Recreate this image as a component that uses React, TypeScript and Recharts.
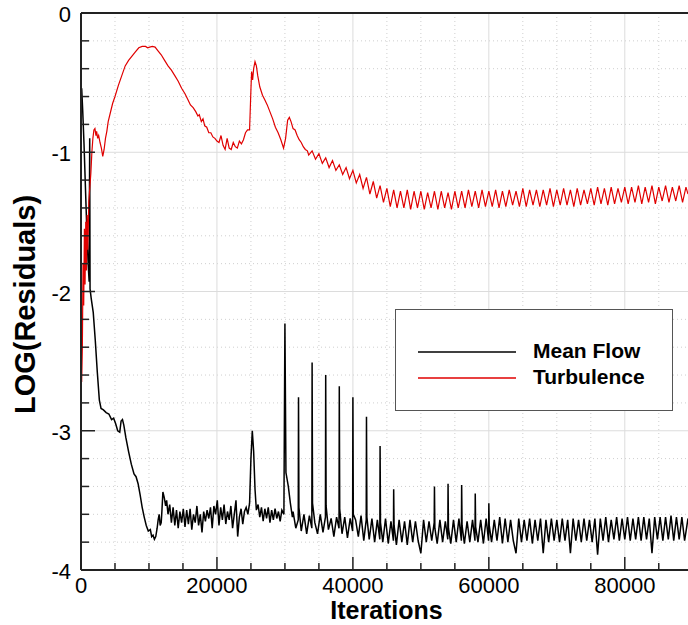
import React from "react";
import { LineChart, Line, XAxis, YAxis, CartesianGrid, ReferenceLine, Legend } from "recharts";

// ==================== Data ====================

// [iteration, log10(residual)]
const meanFlow: [number, number][] = [
  [0, -0.62], [100, -0.54], [250, -0.7], [450, -0.95], [650, -1.25], [850, -1.55], [1050, -1.8],
  [1200, -1.93], [1280, -0.9], [1330, -1.98], [1500, -2.05], [1800, -2.15], [2100, -2.35],
  [2400, -2.58], [2700, -2.78], [2950, -2.84], [3300, -2.85], [3700, -2.87], [4100, -2.88],
  [4500, -2.92], [4800, -2.91], [5100, -2.95], [5400, -3.0], [5700, -3.01], [5900, -2.93],
  [6100, -2.92], [6300, -2.96], [6600, -3.05], [7000, -3.15], [7400, -3.24], [7800, -3.31],
  [8100, -3.33], [8400, -3.38], [8700, -3.46], [9000, -3.55], [9300, -3.62], [9600, -3.68],
  [9900, -3.72], [10200, -3.71], [10400, -3.76], [10600, -3.75], [10800, -3.78], [11000, -3.76],
  [11200, -3.7], [11350, -3.64], [11500, -3.6], [11650, -3.68], [11800, -3.66], [11900, -3.58],
  [12050, -3.44], [12250, -3.48], [12450, -3.54], [12600, -3.5],
  [12800, -3.6], [13050, -3.53], [13300, -3.66], [13550, -3.55], [13800, -3.68], [14050, -3.57],
  [14300, -3.7], [14550, -3.58], [14800, -3.66], [15050, -3.56], [15300, -3.69], [15550, -3.57],
  [15800, -3.67], [16050, -3.56], [16300, -3.71], [16550, -3.6], [16800, -3.66], [17050, -3.54],
  [17300, -3.68], [17550, -3.6], [17800, -3.73], [18050, -3.58], [18300, -3.65], [18550, -3.57],
  [18800, -3.63], [19050, -3.55], [19300, -3.7], [19550, -3.54], [19800, -3.6], [20050, -3.5],
  [20300, -3.68], [20550, -3.55], [20800, -3.64], [21050, -3.53], [21300, -3.67], [21550, -3.58],
  [21800, -3.64], [22050, -3.54], [22300, -3.7], [22550, -3.6], [22800, -3.5], [23050, -3.76],
  [23300, -3.62], [23550, -3.56], [23800, -3.67], [24050, -3.58], [24300, -3.55], [24550, -3.6],
  [24800, -3.52], [25000, -3.2], [25200, -3.0], [25400, -3.15], [25600, -3.42], [25800, -3.57],
  [26050, -3.53], [26300, -3.62], [26550, -3.55], [26800, -3.65], [27050, -3.56], [27300, -3.63],
  [27550, -3.55], [27800, -3.66], [28050, -3.57], [28300, -3.64], [28550, -3.56], [28800, -3.63],
  [29050, -3.58], [29300, -3.65], [29550, -3.57], [29850, -3.6], [30000, -2.23], [30150, -3.3],
  [30500, -3.4], [30800, -3.52], [31100, -3.62],
  [31200, -3.58], [31600, -3.7], [31960, -3.64], [32000, -2.76], [32060, -3.55], [32400, -3.72],
  [32800, -3.6], [33200, -3.74], [33600, -3.61], [33960, -3.7], [34000, -2.51], [34060, -3.52],
  [34400, -3.66], [34800, -3.74], [35200, -3.6], [35600, -3.73], [35960, -3.62], [36000, -2.6],
  [36060, -3.54], [36400, -3.71], [36800, -3.63], [37200, -3.76], [37600, -3.62], [37960, -3.7],
  [38000, -2.68], [38060, -3.56], [38400, -3.74], [38800, -3.62], [39200, -3.77], [39600, -3.63],
  [39960, -3.72], [40000, -2.76], [40060, -3.6], [40400, -3.64], [40800, -3.76], [41200, -3.61],
  [41600, -3.79], [41960, -3.64], [42000, -2.9], [42060, -3.62], [42400, -3.78], [42800, -3.63],
  [43200, -3.8], [43600, -3.64], [43960, -3.78], [44000, -3.11], [44060, -3.66], [44400, -3.8],
  [44800, -3.63], [45200, -3.81], [45600, -3.65], [45960, -3.79], [46000, -3.42], [46060, -3.68],
  [46400, -3.82], [46800, -3.64], [47200, -3.8], [47600, -3.65], [48000, -3.82], [48400, -3.64],
  [48800, -3.8], [49200, -3.65], [49600, -3.79], [50000, -3.88], [50400, -3.64], [50800, -3.8],
  [51200, -3.65], [51600, -3.79], [51960, -3.66], [52000, -3.4], [52060, -3.7], [52400, -3.81],
  [52800, -3.64], [53200, -3.8], [53600, -3.65], [53960, -3.78], [54000, -3.38], [54060, -3.7],
  [54400, -3.81], [54800, -3.64], [55200, -3.8], [55600, -3.63], [55960, -3.79], [56000, -3.39],
  [56060, -3.68], [56400, -3.81], [56800, -3.65], [57200, -3.8], [57600, -3.64], [57960, -3.79],
  [58000, -3.45], [58060, -3.69], [58400, -3.8], [58800, -3.64], [59200, -3.81], [59600, -3.63],
  [59960, -3.79], [60000, -3.52], [60060, -3.68], [60400, -3.8], [60800, -3.64], [61200, -3.79],
  [61600, -3.62], [62000, -3.81], [62400, -3.63], [62800, -3.8], [63200, -3.64], [63600, -3.79],
  [64000, -3.88], [64400, -3.63], [64800, -3.8], [65200, -3.64], [65600, -3.79], [66000, -3.63],
  [66400, -3.81], [66800, -3.64], [67200, -3.79], [67600, -3.63], [68000, -3.88], [68400, -3.64],
  [68800, -3.8], [69200, -3.63], [69600, -3.79], [70000, -3.64], [70400, -3.8], [70800, -3.63],
  [71200, -3.79], [71600, -3.64], [72000, -3.88], [72400, -3.63], [72800, -3.79], [73200, -3.64],
  [73600, -3.8], [74000, -3.63], [74400, -3.79], [74800, -3.64], [75200, -3.8], [75600, -3.63],
  [76000, -3.89], [76400, -3.63], [76800, -3.79], [77200, -3.62], [77600, -3.8], [78000, -3.64],
  [78400, -3.78], [78800, -3.62], [79200, -3.79], [79600, -3.63], [80000, -3.78], [80400, -3.62],
  [80800, -3.79], [81200, -3.63], [81600, -3.78], [82000, -3.62], [82400, -3.79], [82800, -3.62],
  [83200, -3.78], [83600, -3.63], [84000, -3.88], [84400, -3.62], [84800, -3.78], [85200, -3.62],
  [85600, -3.79], [86000, -3.62], [86400, -3.78], [86800, -3.61], [87200, -3.79], [87600, -3.62],
  [88000, -3.78], [88400, -3.62], [88800, -3.79], [89300, -3.63],
];

const turbulence: [number, number][] = [
  [0, -2.2], [100, -2.65], [200, -2.4], [300, -1.8], [400, -2.1], [500, -1.55], [600, -1.95],
  [700, -1.5], [800, -1.85], [900, -1.45], [1000, -1.7], [1150, -1.35], [1300, -1.25],
  [1450, -1.15], [1600, -1.0], [1750, -0.9], [1900, -0.84], [2050, -0.83], [2200, -0.88],
  [2300, -0.85], [2450, -0.9], [2600, -0.88], [2800, -0.93], [3000, -0.97], [3200, -1.03],
  [3400, -0.98], [3600, -0.9], [3800, -0.85], [4000, -0.78], [4300, -0.72], [4650, -0.65],
  [5000, -0.6], [5500, -0.52], [6000, -0.45], [6500, -0.38], [7000, -0.34], [7500, -0.31],
  [8000, -0.28], [8500, -0.25], [9000, -0.24], [9500, -0.24], [9800, -0.25], [10100, -0.245],
  [10500, -0.24], [10900, -0.245], [11300, -0.27], [11800, -0.3], [12300, -0.34], [12800, -0.38],
  [13300, -0.41], [13800, -0.45], [14300, -0.49], [14800, -0.54], [15300, -0.58], [15700, -0.62],
  [16100, -0.66], [16500, -0.68], [16900, -0.71], [17200, -0.74], [17400, -0.73], [17700, -0.78],
  [17950, -0.76], [18200, -0.81], [18500, -0.82], [18800, -0.86], [19100, -0.86], [19400, -0.89],
  [19700, -0.9], [20000, -0.92], [20300, -0.93], [20600, -0.88], [20900, -0.95], [21200, -0.98],
  [21500, -0.9], [21800, -0.97], [22100, -0.98], [22400, -0.93], [22700, -0.96], [23000, -0.97],
  [23300, -0.92], [23600, -0.94], [23900, -0.91], [24200, -0.86], [24500, -0.84], [24800, -0.84],
  [25000, -0.55], [25100, -0.42], [25250, -0.48], [25400, -0.4], [25600, -0.35], [25800, -0.38],
  [26000, -0.45], [26300, -0.53], [26700, -0.59], [27000, -0.62], [27400, -0.66], [27800, -0.71],
  [28200, -0.76], [28600, -0.82], [29000, -0.86], [29400, -0.91], [29800, -0.97], [30100, -0.9],
  [30400, -0.77], [30650, -0.75], [30900, -0.78], [31200, -0.83], [31500, -0.84], [31800, -0.88],
  [32100, -0.91], [32400, -0.93], [32700, -0.96], [33000, -0.98], [33300, -0.99],
  [33500, -1.02], [34000, -0.99], [34500, -1.05], [35000, -1.01], [35500, -1.08], [36000, -1.04],
  [36500, -1.11], [37000, -1.06], [37500, -1.13], [38000, -1.09], [38500, -1.16], [39000, -1.11],
  [39500, -1.19], [40000, -1.13], [40500, -1.22], [41000, -1.16], [41500, -1.26], [42000, -1.18],
  [42500, -1.3], [43000, -1.21], [43500, -1.33], [44000, -1.24], [44500, -1.36], [45000, -1.26],
  [45500, -1.39], [46000, -1.27], [46500, -1.4], [47000, -1.28], [47500, -1.4], [48000, -1.27],
  [48500, -1.41], [49000, -1.28], [49500, -1.4], [50000, -1.28], [50500, -1.41], [51000, -1.29],
  [51500, -1.4], [52000, -1.28], [52500, -1.41], [53000, -1.28], [53500, -1.4], [54000, -1.29],
  [54500, -1.41], [55000, -1.28], [55500, -1.4], [56000, -1.28], [56500, -1.4], [57000, -1.27],
  [57500, -1.39], [58000, -1.28], [58500, -1.4], [59000, -1.27], [59500, -1.39], [60000, -1.28],
  [60500, -1.39], [61000, -1.27], [61500, -1.4], [62000, -1.28], [62500, -1.39], [63000, -1.27],
  [63500, -1.38], [64000, -1.28], [64500, -1.39], [65000, -1.26], [65500, -1.39], [66000, -1.27],
  [66500, -1.38], [67000, -1.27], [67500, -1.39], [68000, -1.27], [68500, -1.38], [69000, -1.26],
  [69500, -1.39], [70000, -1.27], [70500, -1.38], [71000, -1.26], [71500, -1.38], [72000, -1.27],
  [72500, -1.39], [73000, -1.26], [73500, -1.38], [74000, -1.27], [74500, -1.37], [75000, -1.26],
  [75500, -1.38], [76000, -1.25], [76500, -1.37], [77000, -1.26], [77500, -1.38], [78000, -1.25],
  [78500, -1.37], [79000, -1.26], [79500, -1.36], [80000, -1.25], [80500, -1.37], [81000, -1.25],
  [81500, -1.36], [82000, -1.24], [82500, -1.37], [83000, -1.25], [83500, -1.36], [84000, -1.24],
  [84500, -1.37], [85000, -1.25], [85500, -1.35], [86000, -1.24], [86500, -1.36], [87000, -1.25],
  [87500, -1.35], [88000, -1.24], [88500, -1.36], [89000, -1.25], [89300, -1.3],
];

const xMajor = [0, 20000, 40000, 60000, 80000];
const xMinor = [5000, 10000, 15000, 25000, 30000, 35000, 45000, 50000, 55000, 65000, 70000, 75000, 85000];
const yMajor = [-4, -3, -2, -1, 0];
const yMinor = [-3.8, -3.6, -3.4, -3.2, -2.8, -2.6, -2.4, -2.2, -1.8, -1.6, -1.4, -1.2, -0.8, -0.6, -0.4, -0.2];

const seriesNames = ["Mean Flow", "Turbulence"];
const seriesColors = ["#000000", "#e00000"];

// merge both series on the iteration axis
type Row = { it: number; mean?: number; turb?: number };
const rows: Row[] = (() => {
  const m = new Map<number, Row>();
  meanFlow.forEach(([it, v]) => {
    const r = m.get(it) ?? { it };
    r.mean = v;
    m.set(it, r);
  });
  turbulence.forEach(([it, v]) => {
    const r = m.get(it) ?? { it };
    r.turb = v;
    m.set(it, r);
  });
  return [...m.values()].sort((a, b) => a.it - b.it);
})();

const FONT = "'Liberation Sans', Arial, Helvetica, sans-serif";
const AXIS = "#222";

// ==================== Ticks ====================

const XTick = (props: any) => {
  const { x, y, payload } = props;
  const major = xMajor.includes(payload.value);
  return (
    <g>
      <line x1={x} x2={x} y1={y} y2={y - (major ? 13 : 7)} stroke={AXIS} strokeWidth={1.5} />
      {major && (
        <text x={x} y={y + 23} textAnchor="middle" fontSize={22} fontFamily={FONT} fill="#000">
          {payload.value}
        </text>
      )}
    </g>
  );
};

const YTick = (props: any) => {
  const { x, y, payload } = props;
  const major = yMajor.includes(payload.value);
  return (
    <g>
      <line x1={x} x2={x + (major ? 14 : 8)} y1={y} y2={y} stroke={AXIS} strokeWidth={1.5} />
      {major && (
        <text x={x - 10} y={y + 9} textAnchor="end" fontSize={22} fontFamily={FONT} fill="#000">
          {payload.value}
        </text>
      )}
    </g>
  );
};

// ==================== Legend ====================

const LegendBox = () => (
  <svg width={278} height={102} style={{ display: "block" }}>
    <rect x={0.5} y={0.5} width={277} height={101} fill="#fff" stroke="#555" strokeWidth={1} />
    {seriesNames.map((name, i) => (
      <g key={name}>
        <line x1={23} x2={121} y1={43 + i * 26} y2={43 + i * 26} stroke={seriesColors[i]} strokeWidth={1.3} />
        <text x={138} y={49 + i * 26} fontSize={21} fontWeight="bold" fontFamily={FONT} fill="#000">
          {name}
        </text>
      </g>
    ))}
  </svg>
);

// ==================== Component ====================

const App: React.FC = () => {
  return (
    <div style={{ position: "absolute", left: 0, top: 0, background: "#fff" }}>
      <LineChart width={688} height={625} data={rows} margin={{ top: 13, right: 0, bottom: 0, left: 0 }}>
        <CartesianGrid stroke="#cfcfcf" strokeDasharray="1 3" verticalValues={xMinor} horizontalValues={yMinor} />
        <CartesianGrid stroke="#dcdcdc" verticalValues={xMajor} horizontalValues={yMajor} />
        <XAxis
          dataKey="it"
          type="number"
          domain={[0, 89300]}
          allowDataOverflow
          ticks={[...xMajor, ...xMinor].sort((a, b) => a - b)}
          interval={0}
          tickSize={0}
          tickMargin={0}
          tickLine={false}
          tick={<XTick />}
          height={55}
          axisLine={{ stroke: AXIS, strokeWidth: 2 }}
          label={{
            content: (p: any) => (
              <text
                x={p.viewBox.x + p.viewBox.width / 2 + 2}
                y={p.viewBox.y + 49}
                textAnchor="middle"
                fontSize={25}
                fontWeight="bold"
                fontFamily={FONT}
                fill="#000"
              >
                Iterations
              </text>
            ),
          }}
        />
        <YAxis
          type="number"
          domain={[-4, 0]}
          allowDataOverflow
          ticks={[...yMajor, ...yMinor].sort((a, b) => a - b)}
          interval={0}
          tickSize={0}
          tickMargin={0}
          tickLine={false}
          tick={<YTick />}
          width={81}
          axisLine={{ stroke: AXIS, strokeWidth: 2 }}
          label={{
            content: (p: any) => {
              const cx = 35;
              const cy = p.viewBox.y + p.viewBox.height / 2 + 13;
              return (
                <text
                  x={cx}
                  y={cy}
                  transform={`rotate(-90 ${cx} ${cy})`}
                  textAnchor="middle"
                  fontSize={29}
                  fontWeight="bold"
                  fontFamily={FONT}
                  fill="#000"
                >
                  LOG(Residuals)
                </text>
              );
            },
          }}
        />
        <ReferenceLine y={0} stroke={AXIS} strokeWidth={2} />
        <Line
          dataKey="mean"
          name={seriesNames[0]}
          stroke={seriesColors[0]}
          strokeWidth={1.5}
          dot={false}
          connectNulls
          isAnimationActive={false}
        />
        <Line
          dataKey="turb"
          name={seriesNames[1]}
          stroke={seriesColors[1]}
          strokeWidth={1.2}
          dot={false}
          connectNulls
          isAnimationActive={false}
        />
        <Legend
          layout="vertical"
          align="center"
          verticalAlign="middle"
          content={() => <LegendBox />}
          wrapperStyle={{ left: 395, top: 309, width: 278, height: 102 }}
        />
      </LineChart>
    </div>
  );
};

export default App;
